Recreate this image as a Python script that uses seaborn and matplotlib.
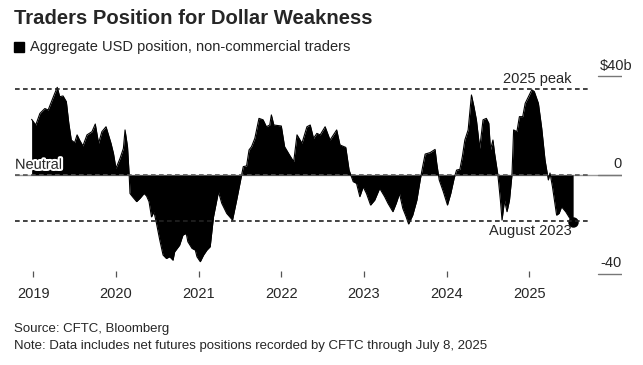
import matplotlib
matplotlib.use("Agg")
import matplotlib.pyplot as plt
import matplotlib.patheffects as pe
from matplotlib.patches import Rectangle
import seaborn as sns
import pandas as pd

# Aggregate USD position of non-commercial traders ($ billions)
years = [
    2018.98, 2019.03, 2019.08, 2019.14, 2019.18, 2019.22, 2019.26, 2019.29, 2019.32, 2019.36,
    2019.40, 2019.43, 2019.46, 2019.50, 2019.53, 2019.56, 2019.60, 2019.65, 2019.71, 2019.75,
    2019.79, 2019.83, 2019.88, 2019.94, 2019.97, 2020.00, 2020.05, 2020.09, 2020.11, 2020.14,
    2020.16, 2020.17, 2020.20, 2020.25, 2020.29, 2020.34, 2020.37, 2020.40, 2020.43, 2020.46,
    2020.49, 2020.53, 2020.57, 2020.61, 2020.65, 2020.69, 2020.71, 2020.77, 2020.81, 2020.85,
    2020.87, 2020.92, 2020.96, 2020.98, 2021.02, 2021.06, 2021.10, 2021.14, 2021.18, 2021.24,
    2021.28, 2021.34, 2021.41, 2021.46, 2021.52, 2021.54, 2021.58, 2021.61, 2021.64, 2021.68,
    2021.73, 2021.78, 2021.82, 2021.86, 2021.88, 2021.91, 2022.00, 2022.04, 2022.10, 2022.15,
    2022.19, 2022.25, 2022.31, 2022.35, 2022.39, 2022.43, 2022.47, 2022.53, 2022.59, 2022.67,
    2022.71, 2022.78, 2022.82, 2022.87, 2022.91, 2022.95, 2022.99, 2023.03, 2023.08, 2023.13,
    2023.19, 2023.25, 2023.29, 2023.35, 2023.39, 2023.43, 2023.47, 2023.51, 2023.54, 2023.59,
    2023.64, 2023.68, 2023.71, 2023.74, 2023.80, 2023.86, 2023.88, 2023.91, 2023.96, 2024.01,
    2024.05, 2024.09, 2024.12, 2024.16, 2024.19, 2024.22, 2024.26, 2024.30, 2024.33, 2024.36,
    2024.40, 2024.44, 2024.48, 2024.51, 2024.53, 2024.56, 2024.58, 2024.62, 2024.65, 2024.67,
    2024.70, 2024.73, 2024.76, 2024.79, 2024.81, 2024.85, 2024.88, 2024.92, 2024.95, 2024.99,
    2025.03, 2025.06, 2025.11, 2025.15, 2025.19, 2025.22, 2025.23, 2025.25, 2025.28, 2025.33,
    2025.36, 2025.39, 2025.44, 2025.49, 2025.53,
]
position = [
    22.6, 20.3, 25.0, 27.0, 26.4, 29.8, 33.2, 35.6, 31.8, 32.1,
    29.8, 21.0, 14.2, 13.1, 16.3, 14.2, 11.8, 16.3, 17.6, 20.7,
    12.9, 17.6, 19.6, 12.9, 8.8, 2.7, 6.8, 10.8, 18.3, 11.5,
    0.0, -7.5, -8.8, -10.8, -9.5, -7.5, -8.5, -10.8, -17.0, -14.9,
    -19.6, -26.4, -32.5, -33.9, -33.2, -34.6, -31.2, -28.5, -24.4, -23.7,
    -27.1, -29.8, -30.5, -33.2, -35.2, -32.5, -30.5, -29.1, -17.0, -6.8,
    -11.5, -15.6, -18.3, -10.2, 0.0, 3.4, 3.7, 10.2, 11.5, 14.9,
    23.0, 22.4, 19.6, 20.3, 24.4, 20.3, 19.9, 11.5, 8.1, 5.4,
    16.3, 12.9, 19.6, 20.3, 14.9, 16.9, 16.3, 19.6, 14.2, 18.3,
    12.2, 11.2, 2.0, -2.7, -3.4, -8.8, -4.8, -7.5, -12.2, -10.2,
    -5.4, -8.8, -11.5, -14.9, -11.5, -7.5, -13.6, -17.0, -19.9, -16.3,
    -10.2, -2.0, 3.4, 8.5, 9.1, 10.4, 4.8, -2.0, -6.8, -12.2,
    -7.5, -1.4, 2.0, 2.3, 7.5, 14.2, 18.3, 32.5, 27.8, 22.4,
    10.8, 22.4, 23.0, 21.0, 10.2, 14.2, 8.8, 0.0, -10.2, -18.3,
    -10.2, -14.9, -10.2, 0.0, 18.3, 17.6, 23.7, 23.7, 29.1, 31.8,
    34.6, 33.9, 29.1, 19.0, 6.1, 0.0, -2.0, 0.8, -4.8, -16.3,
    -15.6, -12.9, -14.9, -17.6, -19.0,
]
peak_2025 = 34.8
aug_2023 = -18.6
tick_years = [2019, 2020, 2021, 2022, 2023, 2024, 2025]
right_labels = ["$40b", "0", "-40"]
right_values = [40, 0, -40]

df = pd.DataFrame({"year": years, "position": position})

sns.set_style("white")
plt.rcParams["font.family"] = ["Liberation Sans", "DejaVu Sans"]

fig = plt.figure(figsize=(6.43, 3.65), dpi=100)
ax = fig.add_axes([15 / 643, 88 / 365, 607 / 643, 217 / 365])

ax.fill_between(df["year"], df["position"], 0, color="black", lw=0)
sns.lineplot(data=df, x="year", y="position", ax=ax, color="black", lw=0.8)
ax.plot(years[-1], position[-1], "o", color="black", ms=6.5)

x_left, x_right = 2018.779, 2026.121
x_dash_end = 2025.734
ax.axhline(0, color="#9a9a9a", lw=1, zorder=0)
ax.hlines([peak_2025, aug_2023], x_left, x_dash_end, colors="#222222", lw=1.2,
          linestyles=(0, (2.8, 2.0)), zorder=3)
ax.hlines([0], x_left, x_dash_end, colors="#555555", lw=1.2,
          linestyles=(0, (2.8, 2.0)), zorder=3)

# right-hand scale
for v in right_values:
    ax.axhline(v, xmin=0.9605, xmax=1.0, color="#777777", lw=1)
ax.text(1.0165, 40 + 1.6, right_labels[0], transform=ax.get_yaxis_transform(),
        ha="right", va="bottom", fontsize=10.5, clip_on=False)
ax.text(0.999, 0 + 1.6, right_labels[1], transform=ax.get_yaxis_transform(),
        ha="right", va="bottom", fontsize=10.5, clip_on=False)
ax.text(0.999, -40 + 1.6, right_labels[2], transform=ax.get_yaxis_transform(),
        ha="right", va="bottom", fontsize=10.5, clip_on=False)

ax.text(0.0, 1.3, "Neutral", transform=ax.get_yaxis_transform(), ha="left", va="bottom",
        fontsize=10.5, zorder=5,
        path_effects=[pe.withStroke(linewidth=3, foreground="white")])
ax.text(2025.516, peak_2025 + 1.3, "2025 peak", ha="right", va="bottom", fontsize=10.5)
ax.text(2025.516, aug_2023 - 1.3, "August 2023", ha="right", va="top", fontsize=10.5)

ax.set_xlim(x_left, x_right)
ax.set_ylim(-41.42, 46.70)
ax.set_xticks(tick_years)
ax.set_xticklabels([str(y) for y in tick_years], fontsize=10.5)
ax.set_yticks([])
ax.tick_params(axis="x", direction="in", length=4, width=0.9, color="#555555", pad=7,
               bottom=True)
ax.set_xlabel("")
ax.set_ylabel("")
for s in ax.spines.values():
    s.set_visible(False)

fig.text(14 / 643, 1 - 18 / 365, "Traders Position for Dollar Weakness", fontsize=14.6,
         fontweight="bold", ha="left", va="center")
fig.patches.append(Rectangle((14 / 643, 1 - 52 / 365), 10 / 643, 10 / 365,
                             transform=fig.transFigure, color="black"))
fig.text(30 / 643, 1 - 47 / 365, "Aggregate USD position, non-commercial traders",
         fontsize=10.5, ha="left", va="center")
fig.text(14 / 643, 1 - 329 / 365, "Source: CFTC, Bloomberg", fontsize=9.5,
         ha="left", va="center")
fig.text(14 / 643, 1 - 346 / 365,
         "Note: Data includes net futures positions recorded by CFTC through July 8, 2025",
         fontsize=9.5, ha="left", va="center")

fig.savefig("out.png", dpi=100)
